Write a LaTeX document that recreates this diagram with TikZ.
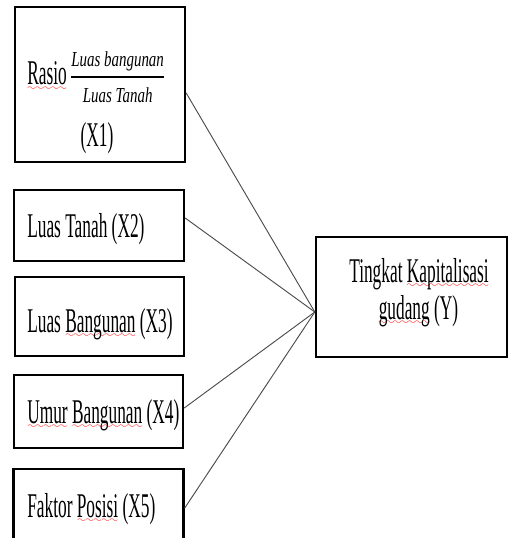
\documentclass[tikz,border=0pt]{standalone}
\usepackage{fontspec}
\setmainfont[FakeStretch=0.5]{Liberation Serif}
\newfontfamily\fracfont[FakeStretch=0.7]{Liberation Serif}
\font\wavyfont=lasy7
\newlength\ratiowd
\newcommand\spell[1]{\leavevmode\setbox0\hbox{#1}\rlap{\color{red}\lower4.4pt\hbox to\wd0{\xleaders\hbox{\wavyfont\char58}\hfil}}\box0\relax}
\newcommand\ratio[2]{\leavevmode\setbox2\hbox{\fracfont\itshape\fontsize{16}{19}\selectfont#1}\setbox4\hbox{\fracfont\itshape\fontsize{16}{19}\selectfont#2}%
	\ratiowd=\wd2\relax
	\rlap{\raise13.5pt\hbox to\ratiowd{\hss\box2\hss}}\rlap{\lower13.5pt\hbox to\ratiowd{\hss\box4\hss}}\raise5.6pt\hbox{\vrule width\ratiowd height1pt depth0pt}}
\tikzset{
	varbox/.style={draw=black,line width=1.8pt,inner sep=0pt},
	vartext/.style={inner sep=0pt,font=\fontsize{26}{30}\selectfont},
	link/.style={draw=black!70,line width=0.7pt,line cap=round}
}
\begin{document}
\begin{tikzpicture}[x=0.75pt,y=-0.75pt]
	\useasboundingbox (0,0) rectangle (509,538);
	\node[varbox,minimum width=127.5pt,minimum height=116.25pt] (x1) at (100,84.5) {};
	\node[varbox,minimum width=127.5pt,minimum height=53.25pt] (x2) at (99,225.5) {};
	\node[varbox,minimum width=126.75pt,minimum height=59.25pt] (x3) at (99.5,316.5) {};
	\node[varbox,minimum width=126.75pt,minimum height=54.75pt] (x4) at (98.5,411.5) {};
	\node[varbox,minimum width=127.5pt,minimum height=75pt] (x5) at (98.5,519) {};
	\node[varbox,minimum width=143.25pt,minimum height=90pt] (y) at (411.5,297) {};
	\node[vartext,anchor=base west] (t1) at (27,85) {\spell{Rasio}\hspace{3.5pt}\ratio{Luas bangunan}{Luas Tanah}};
	\node[vartext,anchor=base] (t1b) at (97,147) {(X1)};
	\node[vartext,anchor=base west] (t2) at (27,237) {Luas Tanah (X2)};
	\node[vartext,anchor=base west] (t3) at (27,332) {Luas \spell{Bangunan} (X3)};
	\node[vartext,anchor=base west] (t4) at (27,423) {\spell{Umur} \spell{Bangunan} (X4)};
	\node[vartext,anchor=base west] (t5) at (27,517) {Faktor \spell{Posisi} (X5)};
	\node[vartext,anchor=base] (ty) at (419,282) {Tingkat \spell{Kapitalisasi}};
	\node[vartext,anchor=base] (ty2) at (418.5,319) {\spell{gudang} (Y)};
	\coordinate (yin) at ([yshift=-11.25pt]y.west);
	\draw[link] ([yshift=-6.4pt]x1.east) -- (yin);
	\draw[link] ([yshift=5.6pt]x2.east) -- (yin);
	\draw[link] ([yshift=2.6pt]x4.east) -- (yin);
	\draw[link] ([yshift=8.2pt]x5.east) -- (yin);
\end{tikzpicture}
\end{document}
